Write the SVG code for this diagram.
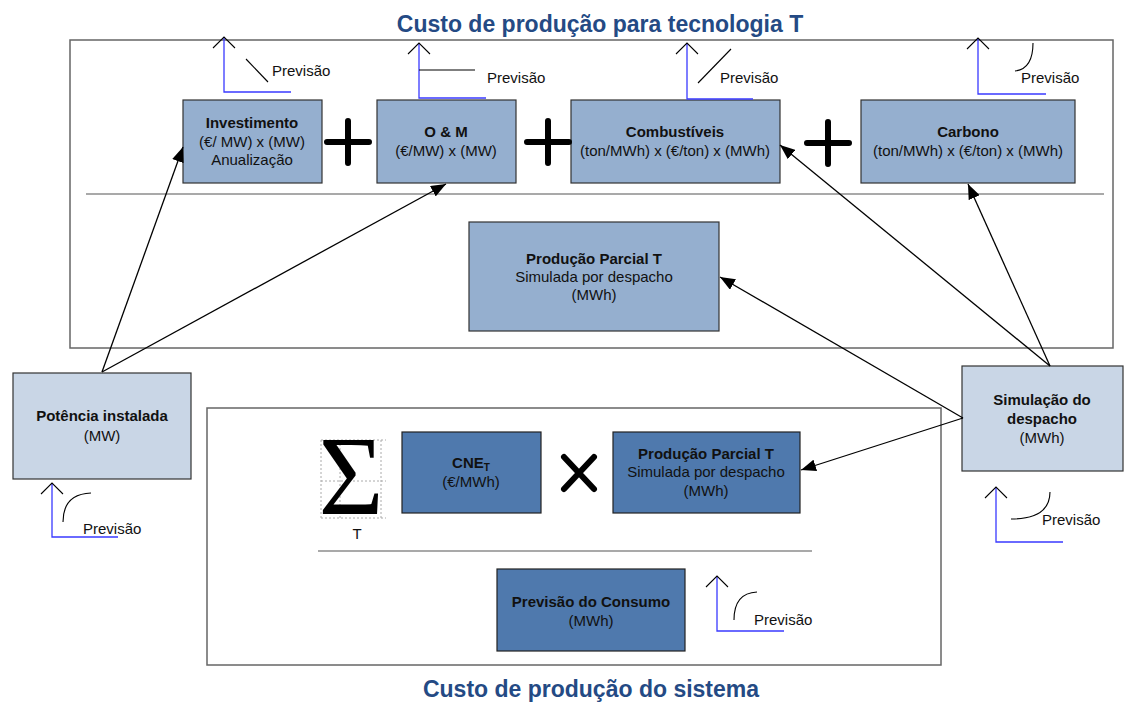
<svg xmlns="http://www.w3.org/2000/svg" width="1125" height="702" viewBox="0 0 1125 702">
<defs>
<marker id="ah" markerUnits="userSpaceOnUse" markerWidth="16" markerHeight="12" refX="15" refY="6" orient="auto">
<path d="M0,0 L15,6 L0,12 z" fill="#000"/>
</marker>
<style>
text{font-family:"Liberation Sans",Arial,sans-serif;fill:#111}
.title{font-size:23px;font-weight:bold;fill:#244a84;text-anchor:middle}
.b{font-size:15px;font-weight:bold;text-anchor:middle}
.r{font-size:15px;text-anchor:middle}
.pv{font-size:15px}
.frame{fill:none;stroke:#666;stroke-width:1.5}
.sep{stroke:#555;stroke-width:1.2}
.lt{fill:#95afcf;stroke:#333;stroke-width:1.2}
.xl{fill:#c9d6e6;stroke:#333;stroke-width:1.2}
.dk{fill:#4f79ad;stroke:#222;stroke-width:1.2}
.op{stroke:#000;stroke-width:6;stroke-linecap:round;fill:none}
.blue{fill:none;stroke:#3a3aff;stroke-width:1.3}
.blk{fill:none;stroke:#000;stroke-width:1.1}
.con{stroke:#000;stroke-width:1.3;fill:none}
.grid{stroke:#aaa;stroke-width:1;stroke-dasharray:2 2;fill:none}
</style>
</defs>

<text class="title" x="600" y="32">Custo de produção para tecnologia T</text>
<text class="title" x="591" y="697">Custo de produção do sistema</text>

<g id="frame-top">
<rect class="frame" x="70" y="40" width="1043" height="308"/>
<line class="sep" x1="86" y1="194" x2="1104" y2="194"/>
</g>
<g id="frame-bottom">
<rect class="frame" x="207" y="408" width="734" height="257"/>
<line class="sep" x1="318" y1="551" x2="812" y2="551"/>
</g>

<g id="investimento">
<rect class="lt" x="183" y="100" width="139" height="83"/>
<text class="b" x="252" y="128">Investimento</text>
<text class="r" x="252" y="147">(€/ MW) x (MW)</text>
<text class="r" x="252" y="165">Anualização</text>
</g>
<g id="om">
<rect class="lt" x="377" y="100" width="139" height="83"/>
<text class="b" x="446" y="137">O &amp; M</text>
<text class="r" x="446" y="156">(€/MW) x (MW)</text>
</g>
<g id="combustiveis">
<rect class="lt" x="571" y="100" width="209" height="83"/>
<text class="b" x="675" y="137">Combustíveis</text>
<text class="r" x="675" y="156">(ton/MWh) x (€/ton) x (MWh)</text>
</g>
<g id="carbono">
<rect class="lt" x="861" y="100" width="214" height="83"/>
<text class="b" x="968" y="137">Carbono</text>
<text class="r" x="968" y="156">(ton/MWh) x (€/ton) x (MWh)</text>
</g>

<g id="plus-signs">
<path class="op" d="M348,121 V163 M327,142 H369"/>
<path class="op" d="M548,121 V163 M527,142 H569"/>
<path class="op" d="M828,122 V164 M807,143 H849"/>
</g>

<g id="producao-top">
<rect class="lt" x="469" y="222" width="250" height="109"/>
<text class="b" x="594" y="264">Produção Parcial T</text>
<text class="r" x="594" y="282">Simulada por despacho</text>
<text class="r" x="594" y="300">(MWh)</text>
</g>

<g id="potencia">
<rect class="xl" x="13" y="373" width="178" height="106"/>
<text class="b" x="102" y="421">Potência instalada</text>
<text class="r" x="102" y="441">(MW)</text>
</g>

<g id="simulacao">
<rect class="xl" x="962" y="366" width="161" height="105"/>
<text class="b" x="1042" y="405">Simulação do</text>
<text class="b" x="1042" y="424">despacho</text>
<text class="r" x="1042" y="443">(MWh)</text>
</g>

<g id="sigma">
<path class="grid" d="M321,440 V518 M340,440 V518 M381,440 V518 M321,440 H386 M321,481 H386 M321,518 H386"/>
<text x="351" y="514" style="font-family:'Liberation Serif','Times New Roman',serif;font-size:112px;text-anchor:middle;fill:#000">Σ</text>
<text class="r" x="357" y="539">T</text>
</g>

<g id="cne">
<rect class="dk" x="402" y="432" width="139" height="81"/>
<text class="b" x="471" y="468">CNE<tspan font-size="10" dy="3">T</tspan></text>
<text class="r" x="471" y="487">(€/MWh)</text>
</g>

<g id="times">
<path class="op" d="M564,457 L594,489 M594,457 L564,489"/>
</g>

<g id="producao-bottom">
<rect class="dk" x="613" y="432" width="187" height="81"/>
<text class="b" x="706" y="459">Produção Parcial T</text>
<text class="r" x="706" y="477">Simulada por despacho</text>
<text class="r" x="706" y="496">(MWh)</text>
</g>

<g id="consumo">
<rect class="dk" x="497" y="569" width="188" height="82"/>
<text class="b" x="591" y="607">Previsão do Consumo</text>
<text class="r" x="591" y="626">(MWh)</text>
</g>

<g id="previsao-icons">
<g id="pv-investimento">
<path class="blue" d="M224,37 V92 H291"/>
<path class="blk" d="M213,48 L224,37 L235,48"/>
<path class="blk" d="M246,59 L268,82"/>
<text class="pv" x="272" y="76">Previsão</text>
</g>
<g id="pv-om">
<path class="blue" d="M419,43 V98 H486"/>
<path class="blk" d="M408,54 L419,43 L430,54"/>
<path class="blk" d="M419,70 H475"/>
<text class="pv" x="487" y="83">Previsão</text>
</g>
<g id="pv-combustiveis">
<path class="blue" d="M687,43 V99 H753"/>
<path class="blk" d="M676,54 L687,43 L698,54"/>
<path class="blk" d="M698,83 L731,49"/>
<text class="pv" x="720" y="83">Previsão</text>
</g>
<g id="pv-carbono">
<path class="blue" d="M978,38 V94 H1046"/>
<path class="blk" d="M967,49 L978,38 L989,49"/>
<path class="blk" d="M1015,71 Q1033,69 1033,43"/>
<text class="pv" x="1021" y="83">Previsão</text>
</g>
<g id="pv-potencia">
<path class="blue" d="M52,483 V537 H118"/>
<path class="blk" d="M41,494 L52,483 L63,494"/>
<path class="blk" d="M63,522 Q63,494 91,493"/>
<text class="pv" x="83" y="534">Previsão</text>
</g>
<g id="pv-simulacao">
<path class="blue" d="M996,487 V542 H1063"/>
<path class="blk" d="M985,498 L996,487 L1007,498"/>
<path class="blk" d="M1011,519 Q1050,519 1050,492"/>
<text class="pv" x="1042" y="525">Previsão</text>
</g>
<g id="pv-consumo">
<path class="blue" d="M717,576 V631 H784"/>
<path class="blk" d="M706,587 L717,576 L728,587"/>
<path class="blk" d="M734,620 Q734,593 757,592"/>
<text class="pv" x="754" y="625">Previsão</text>
</g>
</g>

<g id="connectors">
<line class="con" x1="102" y1="372" x2="183" y2="147" marker-end="url(#ah)"/>
<line class="con" x1="102" y1="372" x2="446" y2="184" marker-end="url(#ah)"/>
<line class="con" x1="1050" y1="366" x2="780" y2="145" marker-end="url(#ah)"/>
<line class="con" x1="1050" y1="366" x2="968" y2="184" marker-end="url(#ah)"/>
<line class="con" x1="963" y1="418" x2="720" y2="277" marker-end="url(#ah)"/>
<line class="con" x1="963" y1="418" x2="801" y2="470" marker-end="url(#ah)"/>
</g>
</svg>
